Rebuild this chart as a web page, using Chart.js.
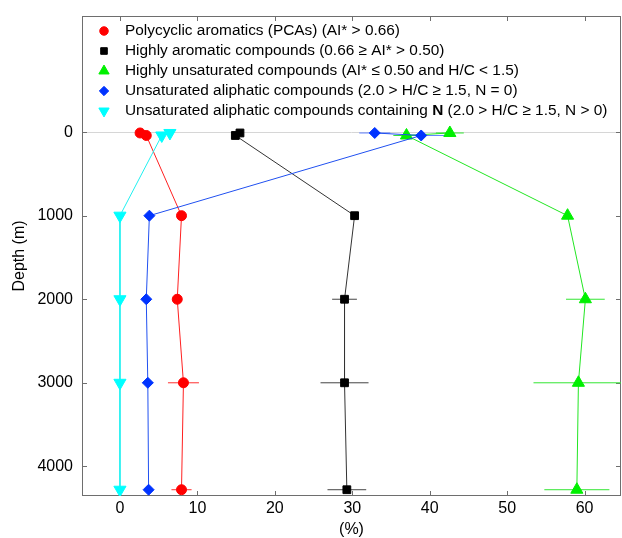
<!DOCTYPE html>
<html>
<head>
<meta charset="utf-8">
<script src="https://cdn.jsdelivr.net/npm/chart.js@4.4.0/dist/chart.umd.min.js"></script>
<style>
html, body { margin: 0; padding: 0; background: #fff; }
#wrap { width: 622px; height: 538px; }
</style>
</head>
<body>
<div id="wrap"><canvas id="depth-chart" width="622" height="538"></canvas></div>
<script>
// ---------------- Data ----------------
const depths = [10, 40, 1000, 2000, 3000, 4280];

const pcaValues = [2.6, 3.4, 7.95, 7.4, 8.2, 7.95];
const pcaErrors = [0, 0, 0, 0, 2.0, 1.3];

const aromaticValues = [15.5, 14.9, 30.3, 29.0, 29.0, 29.3];
const aromaticErrors = [0, 0, 0, 1.6, 3.1, 2.5];

const unsatValues = [42.6, 37.0, 57.8, 60.1, 59.2, 59.0];
const unsatErrors = [1.8, 1.7, 0, 2.5, 5.8, 4.2];

const aliphaticValues = [32.9, 38.9, 3.8, 3.4, 3.6, 3.7];
const aliphaticErrors = [2.0, 3.4, 0, 0, 0.7, 0];

const aliphaticNValues = [6.45, 5.4, 0, 0, 0, 0];
const aliphaticNErrors = [0, 0, 0, 0, 0, 0];

const xTicks = [0, 10, 20, 30, 40, 50, 60];
const yTicks = [0, 1000, 2000, 3000, 4000];

const legendLabels = [
    ['Polycyclic aromatics (PCAs) (AI* > 0.66)'],
    ['Highly aromatic compounds (0.66 \u2265 AI* > 0.50)'],
    ['Highly unsaturated compounds (AI* \u2264 0.50 and H/C < 1.5)'],
    ['Unsaturated aliphatic compounds (2.0 > H/C \u2265 1.5, N = 0)'],
    ['Unsaturated aliphatic compounds containing ', 'N', ' (2.0 > H/C \u2265 1.5, N > 0)']
];

// ---------------- Styles ----------------
const series = [
    { values: pcaValues, errors: pcaErrors, marker: '#ff0000', line: '#ff2020', bar: '#ff3030', style: 'circle', radius: 5, rotation: 0 },
    { values: aromaticValues, errors: aromaticErrors, marker: '#000000', line: '#333333', bar: '#444444', style: 'rect', radius: 5.5, rotation: 0 },
    { values: unsatValues, errors: unsatErrors, marker: '#00f000', line: '#22e622', bar: '#33e633', style: 'triangle', radius: 7, rotation: 0 },
    { values: aliphaticValues, errors: aliphaticErrors, marker: '#0033ff', line: '#2050f0', bar: '#6080ff', style: 'rectRot', radius: 5.5, rotation: 0 },
    { values: aliphaticNValues, errors: aliphaticNErrors, marker: '#00ffff', line: '#20f0f0', bar: '#40f0f0', style: 'triangle', radius: 7, rotation: 180 }
];

const font = 'Liberation Sans, Arial, sans-serif';

// ---------------- Datasets ----------------
const datasets = [];
series.forEach((s, i) => {
    // horizontal error bars, broken by null points
    const bars = [];
    depths.forEach((d, k) => {
        if (s.errors[k] > 0) {
            bars.push({ x: s.values[k] - s.errors[k], y: d });
            bars.push({ x: s.values[k] + s.errors[k], y: d });
            bars.push({ x: null, y: null });
        }
    });
    datasets.push({
        data: bars,
        showLine: true,
        spanGaps: false,
        borderColor: s.bar,
        borderWidth: 1,
        pointRadius: 0,
        order: 20 + i
    });
    datasets.push({
        data: depths.map((d, k) => ({ x: s.values[k], y: d })),
        showLine: true,
        borderColor: s.line,
        borderWidth: 1,
        tension: 0,
        pointStyle: s.style,
        pointRadius: s.radius,
        pointRotation: s.rotation,
        pointBackgroundColor: s.marker,
        pointBorderColor: s.marker,
        pointBorderWidth: 1,
        order: 10 - i
    });
});

// ---------------- Plugins ----------------
function drawMarker(ctx, style, r, rot, x, y) {
    ctx.beginPath();
    if (style === 'circle') {
        ctx.arc(x, y, r, 0, Math.PI * 2);
    } else if (style === 'rect') {
        const h = r * Math.SQRT1_2;
        ctx.rect(x - h, y - h, 2 * h, 2 * h);
    } else if (style === 'rectRot') {
        ctx.moveTo(x, y - r);
        ctx.lineTo(x + r, y);
        ctx.lineTo(x, y + r);
        ctx.lineTo(x - r, y);
    } else {
        for (let k = 0; k < 3; k++) {
            const a = rot * Math.PI / 180 + k * 2 * Math.PI / 3;
            const px = x + Math.sin(a) * r;
            const py = y - Math.cos(a) * r;
            if (k === 0) ctx.moveTo(px, py); else ctx.lineTo(px, py);
        }
    }
    ctx.closePath();
    ctx.fill();
    ctx.stroke();
}

const frame = {
    id: 'frame',
    beforeDatasetsDraw(chart) {
        const { ctx, chartArea: a, scales } = chart;
        ctx.save();
        ctx.strokeStyle = '#6e6e6e';
        ctx.lineWidth = 1;
        ctx.strokeRect(a.left + 0.5, a.top + 0.5, a.right - a.left - 1, a.bottom - a.top - 1);
        ctx.beginPath();
        xTicks.forEach(v => {
            const px = Math.round(scales.x.getPixelForValue(v)) + 0.5;
            ctx.moveTo(px, a.bottom); ctx.lineTo(px, a.bottom - 5);
            ctx.moveTo(px, a.top); ctx.lineTo(px, a.top + 5);
        });
        yTicks.forEach(v => {
            const py = Math.round(scales.y.getPixelForValue(v)) + 0.5;
            ctx.moveTo(a.left, py); ctx.lineTo(a.left + 5, py);
            ctx.moveTo(a.right, py); ctx.lineTo(a.right - 5, py);
        });
        ctx.stroke();
        ctx.restore();
    }
};

const insideLegend = {
    id: 'insideLegend',
    afterDraw(chart) {
        const ctx = chart.ctx;
        ctx.save();
        ctx.textBaseline = 'middle';
        legendLabels.forEach((parts, i) => {
            const s = series[i];
            const y = 31 + i * 20;
            ctx.fillStyle = s.marker;
            ctx.strokeStyle = s.marker;
            ctx.lineWidth = 1;
            drawMarker(ctx, s.style, s.radius * 0.85, s.rotation, 104, y);
            let x = 125;
            ctx.fillStyle = '#000';
            parts.forEach((t, k) => {
                ctx.font = (k === 1 ? 'bold ' : '') + '15.4px ' + font;
                ctx.fillText(t, x, y);
                x += ctx.measureText(t).width;
            });
        });
        ctx.restore();
    }
};

// ---------------- Chart ----------------
const ctx = document.getElementById('depth-chart');
const depthChart = new Chart(ctx, {
    type: 'scatter',
    data: { datasets: datasets },
    options: {
        responsive: false,
        animation: false,
        layout: { autoPadding: false, padding: { top: 16, right: 1, left: 0, bottom: 0 } },
        plugins: {
            legend: { display: false },
            tooltip: { enabled: false }
        },
        scales: {
            x: {
                type: 'linear',
                min: -4.9,
                max: 64.7,
                afterBuildTicks: scale => { scale.ticks = xTicks.map(v => ({ value: v })); },
                afterFit: scale => {
                    scale.height = 42;
                    scale.paddingLeft = 0;
                    scale.paddingRight = 0;
                },
                grid: { display: false, drawTicks: false },
                border: { display: false },
                ticks: { color: '#000', padding: 0, maxRotation: 0, font: { family: font, size: 16, lineHeight: 1.6 } },
                title: { display: true, text: '(%)', color: '#000', padding: 0, font: { family: font, size: 16, lineHeight: 1 } }
            },
            y: {
                type: 'linear',
                reverse: true,
                min: -1390,
                max: 4355,
                afterBuildTicks: scale => { scale.ticks = yTicks.map(v => ({ value: v })); },
                afterFit: scale => {
                    scale.width = 82;
                    scale.paddingTop = 0;
                    scale.paddingBottom = 0;
                },
                grid: {
                    drawTicks: false,
                    color: c => (c.tick && c.tick.value === 0 ? '#d6d6d6' : 'rgba(0,0,0,0)'),
                    lineWidth: 1
                },
                border: { display: false },
                ticks: {
                    color: '#000',
                    padding: 9,
                    font: { family: font, size: 16 },
                    callback: v => String(v)
                },
                title: { display: true, text: 'Depth (m)', color: '#000', padding: 12, font: { family: font, size: 16, lineHeight: 1 } }
            }
        }
    },
    plugins: [frame, insideLegend]
});
</script>
</body>
</html>
